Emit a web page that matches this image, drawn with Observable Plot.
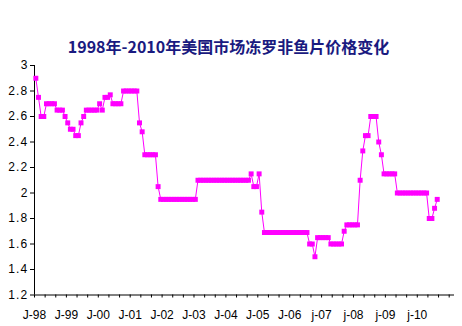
<!DOCTYPE html>
<html><head><meta charset="utf-8">
<script src="https://cdn.jsdelivr.net/npm/d3@7"></script>
<script src="https://cdn.jsdelivr.net/npm/@observablehq/plot@0.6"></script>
<style>
body{margin:0;background:#fff}
svg{display:block}
g[aria-label="y-axis tick label"] text{letter-spacing:1.2px}
</style>
</head><body><div id="chart"></div>
<script>
const title = "1998年-2010年美国市场冻罗非鱼片价格变化";
const yearLabels = ["J-98","J-99","J-00","J-01","J-02","J-03","J-04","J-05","J-06","j-07","j-08","j-09","j-10"];
const yTicks = [1.2,1.4,1.6,1.8,2,2.2,2.4,2.6,2.8,3];
const monthCount = 158; // Jan 1998 .. Feb 2011 category slots

const p1998 = [2.9,2.75,2.6,2.6,2.7,2.7,2.7,2.7,2.65,2.65,2.65,2.6];
const p1999 = [2.55,2.5,2.5,2.45,2.45,2.55,2.6,2.65,2.65,2.65,2.65,2.65];
const p2000 = [2.7,2.65,2.75,2.75,2.77,2.7,2.7,2.7,2.7,2.8,2.8,2.8];
const p2001 = [2.8,2.8,2.8,2.55,2.48,2.3,2.3,2.3,2.3,2.3,2.05,1.95];
const p2002 = [1.95,1.95,1.95,1.95,1.95,1.95,1.95,1.95,1.95,1.95,1.95,1.95];
const p2003 = [1.95,2.1,2.1,2.1,2.1,2.1,2.1,2.1,2.1,2.1,2.1,2.1];
const p2004 = [2.1,2.1,2.1,2.1,2.1,2.1,2.1,2.1,2.1,2.15,2.05,2.05];
const p2005 = [2.15,1.85,1.69,1.69,1.69,1.69,1.69,1.69,1.69,1.69,1.69,1.69];
const p2006 = [1.69,1.69,1.69,1.69,1.69,1.69,1.69,1.6,1.6,1.5,1.65,1.65];
const p2007 = [1.65,1.65,1.65,1.6,1.6,1.6,1.6,1.6,1.7,1.75,1.75,1.75];
const p2008 = [1.75,1.75,2.1,2.33,2.45,2.45,2.6,2.6,2.6,2.4,2.3,2.15];
const p2009 = [2.15,2.15,2.15,2.15,2.0,2.0,2.0,2.0,2.0,2.0,2.0,2.0];
const p2010 = [2.0,2.0,2.0,2.0,1.8,1.8,1.88,1.95];

const all = [...p1998,...p1999,...p2000,...p2001,...p2002,...p2003,...p2004,...p2005,...p2006,...p2007,...p2008,...p2009,...p2010];
const data = all.map((v, i) => ({m: i, v}));
const tickPos = d3.range(0, monthCount, 4).map(k => k - 0.5);
const yearPos = yearLabels.map((_, k) => k * 12 - 0.5);
const magenta = "#ff00ff";

const chart = Plot.plot({
  width: 462,
  height: 326,
  marginLeft: 34,
  marginRight: 8,
  marginTop: 65,
  marginBottom: 31.5,
  style: {fontFamily: "Liberation Sans, Arial, sans-serif", fontSize: "12px", color: "#000", background: "#fff"},
  x: {domain: [-0.5, monthCount - 0.5], axis: null},
  y: {domain: [1.2, 3], axis: null},
  marks: [
    Plot.axisY({ticks: yTicks, label: null, tickSize: 4, tickPadding: 2, fontSize: 12, stroke: "#000", fill: "#000", tickFormat: d3.format("")}),
    Plot.axisX({ticks: tickPos, label: null, tickSize: 3, tickFormat: () => "", stroke: "#000"}),
    Plot.axisX({ticks: yearPos, label: null, tickSize: 0, tickPadding: 15, fontSize: 12, fill: "#000", tickFormat: (d, i) => yearLabels[i]}),
    Plot.ruleX([-0.5], {y1: 1.2, y2: 3, stroke: "#000"}),
    Plot.ruleY([1.2], {x1: -0.5, x2: monthCount - 0.5, stroke: "#000"}),
    Plot.line(data, {x: "m", y: "v", stroke: magenta, strokeWidth: 1}),
    Plot.dot(data, {x: "m", y: "v", symbol: "square", r: 2.8, fill: magenta, stroke: null}),
    Plot.text([title], {frameAnchor: "top", lineAnchor: "middle", dx: -16, dy: -17.5, fontSize: 16, fontWeight: "bold", fill: "#1a1a80", fontFamily: "Noto Sans CJK SC"})
  ]
});
document.getElementById("chart").append(chart);
</script>
</body></html>
